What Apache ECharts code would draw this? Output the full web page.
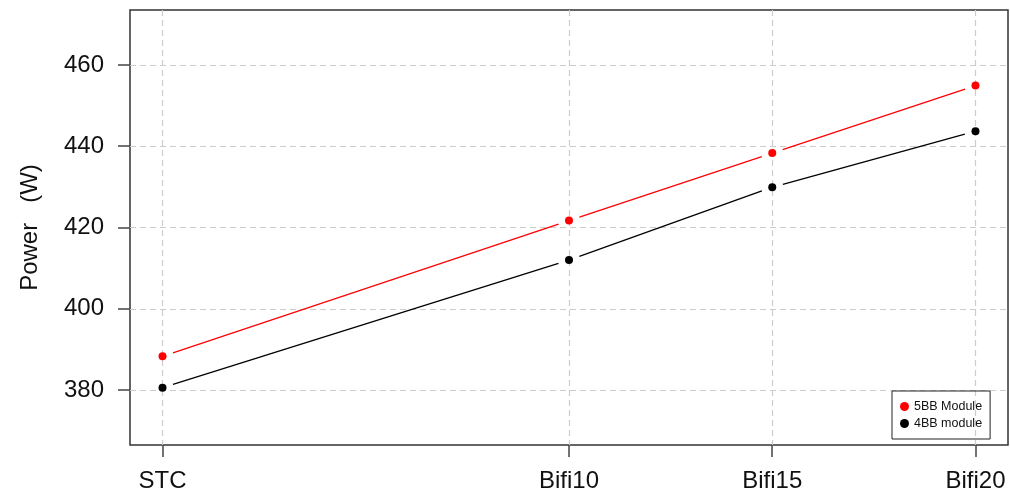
<!DOCTYPE html>
<html><head><meta charset="utf-8">
<script src="https://cdn.jsdelivr.net/npm/echarts@6/dist/echarts.min.js"></script>
<style>html,body{margin:0;padding:0;background:#fff}#c{width:1010px;height:498px}</style>
</head><body><div id="c"></div>
<script>
var categories = ['STC', 'Bifi10', 'Bifi15', 'Bifi20'];
var xPositions = [0, 10, 15, 20];
var module5BB = [388.3, 421.7, 438.3, 454.9];
var module4BB = [380.6, 412.0, 429.9, 443.7];
var yTicks = [380, 400, 420, 440, 460];
var seriesNames = ['5BB Module', '4BB module'];

var FONT = '"Liberation Sans", Arial, sans-serif';
var GAP = 11;

function pts(vals){ return xPositions.map(function(x,i){ return [x, vals[i]]; }); }
function segs(vals){
  var s = [];
  for (var i = 1; i < xPositions.length; i++) s.push([xPositions[i-1], vals[i-1], xPositions[i], vals[i]]);
  return s;
}
function segSeries(vals, color){
  return {
    type: 'custom', data: segs(vals), encode: {x: [0, 2], y: [1, 3]}, silent: true, z: 3,
    renderItem: function(params, api){
      var a = api.coord([api.value(0), api.value(1)]);
      var b = api.coord([api.value(2), api.value(3)]);
      var dx = b[0]-a[0], dy = b[1]-a[1], L = Math.sqrt(dx*dx+dy*dy);
      var ux = dx/L, uy = dy/L;
      return {type: 'line', shape: {x1: a[0]+ux*GAP, y1: a[1]+uy*GAP, x2: b[0]-ux*GAP, y2: b[1]-uy*GAP},
        style: {stroke: color, lineWidth: 1.3}};
    }
  };
}

var chart = echarts.init(document.getElementById('c'), null, {renderer: 'canvas'});
chart.setOption({
  animation: false,
  backgroundColor: '#fff',
  grid: {left: 130, right: 2, top: 10, bottom: 53, show: true, borderColor: '#333', borderWidth: 1.5, backgroundColor: 'transparent'},
  legend: {
    data: seriesNames, orient: 'vertical', left: 892, top: 391,
    borderColor: '#222', borderWidth: 1, padding: [9, 8, 9, 8], itemGap: 4,
    itemWidth: 9, itemHeight: 12, icon: 'circle',
    textStyle: {fontFamily: FONT, fontSize: 12.5, color: '#111', padding: [0, 0, 0, 0]}
  },
  xAxis: {
    type: 'value', min: -0.8, max: 20.8,
    axisLine: {show: false, onZero: false},
    axisTick: {show: true, length: 12, lineStyle: {color: '#444', width: 1.5}, customValues: xPositions},
    axisLabel: {customValues: xPositions, fontFamily: FONT, fontSize: 24, color: '#111', margin: 24,
      formatter: function(v){ var i = xPositions.indexOf(v); return i >= 0 ? categories[i] : ''; }},
    splitLine: {show: true, lineStyle: {color: '#ccc', type: [6, 4], width: 1.2}}
  },
  yAxis: {
    type: 'value', min: 366.5, max: 473.5,
    name: 'Power   (W)', nameLocation: 'middle', nameGap: 88, nameRotate: 90,
    nameTextStyle: {fontFamily: FONT, fontSize: 24, color: '#111'},
    axisLine: {show: false, onZero: false},
    axisTick: {show: true, length: 12, lineStyle: {color: '#444', width: 1.5}, customValues: yTicks},
    axisLabel: {customValues: yTicks, fontFamily: FONT, fontSize: 24, color: '#111', margin: 26},
    splitLine: {show: true, lineStyle: {color: '#ccc', type: [6, 4], width: 1.2}}
  },
  series: [
    segSeries(module5BB, '#ff0000'),
    segSeries(module4BB, '#000000'),
    {name: seriesNames[0], type: 'scatter', data: pts(module5BB), symbolSize: 8, itemStyle: {color: '#ff0000', opacity: 1}, z: 4},
    {name: seriesNames[1], type: 'scatter', data: pts(module4BB), symbolSize: 8, itemStyle: {color: '#000000', opacity: 1}, z: 4}
  ]
});
</script></body></html>
